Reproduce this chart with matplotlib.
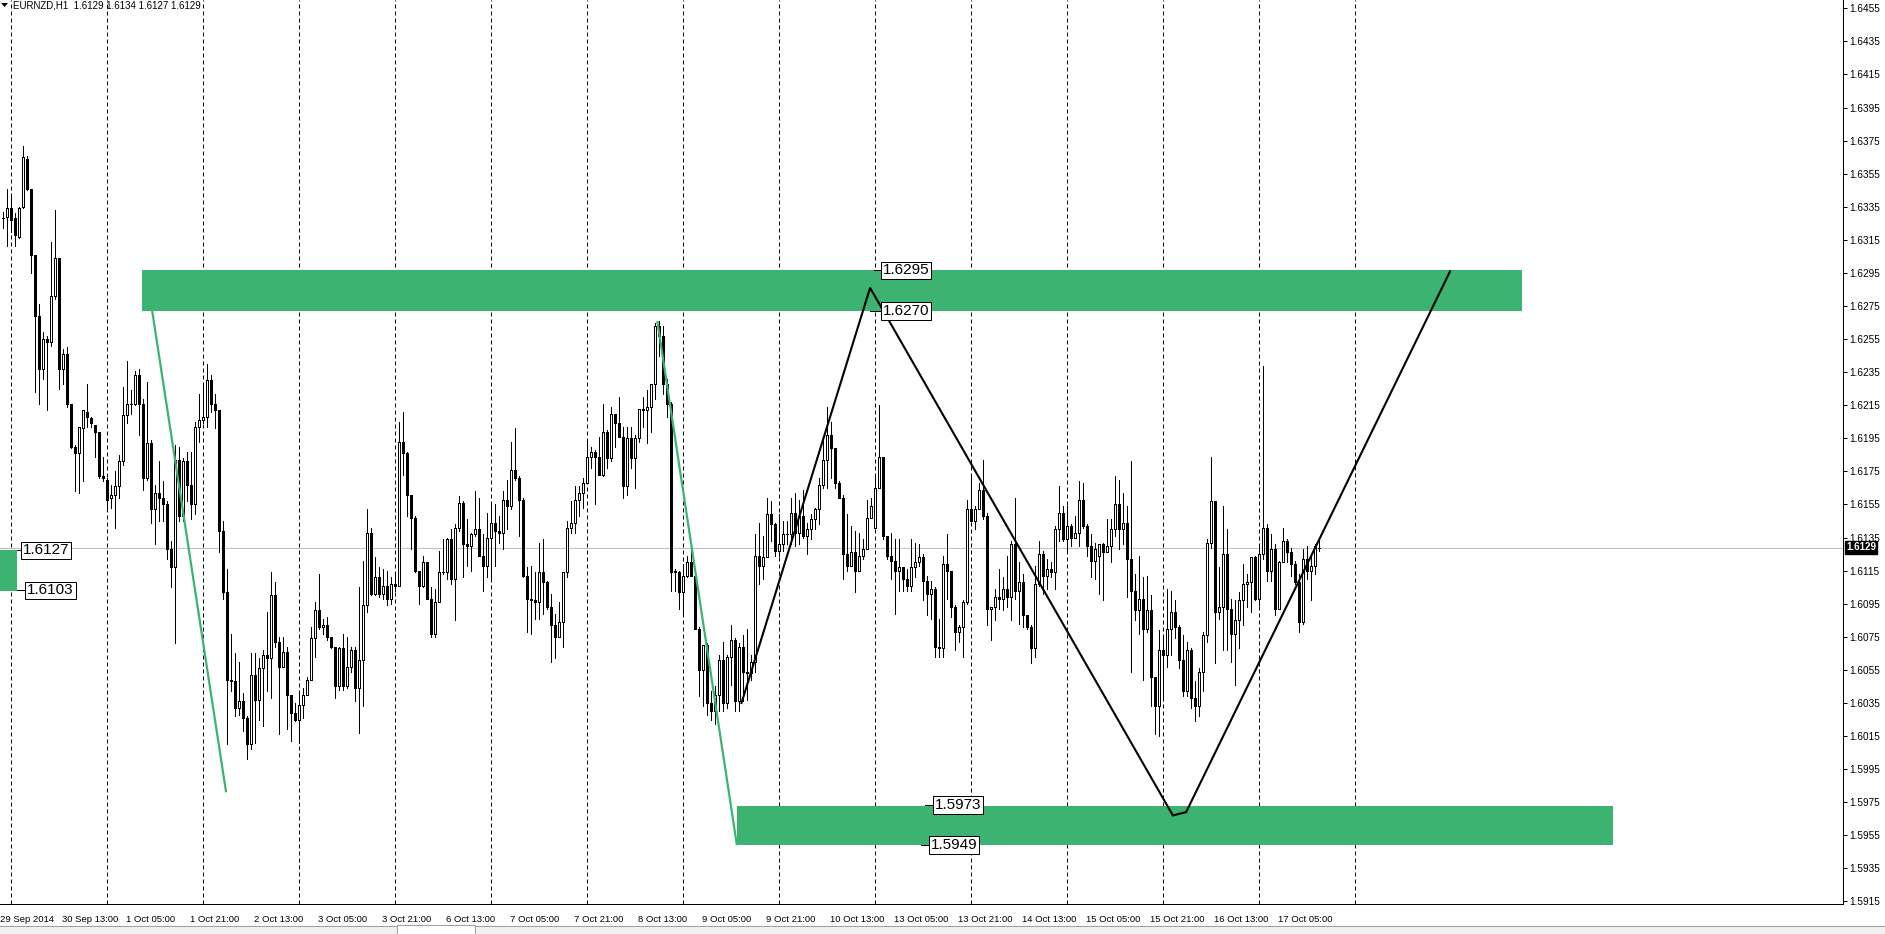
import matplotlib
matplotlib.use('Agg')
import matplotlib.pyplot as plt
from matplotlib.patches import Rectangle, Polygon
from matplotlib.lines import Line2D
import numpy as np
import pandas as pd

plt.rcParams['font.family'] = ['Liberation Sans', 'DejaVu Sans']

# ---------------- data ----------------
symbol = 'EURNZD,H1'
first_bar_time = '2014-09-29 22:00'
header_ohlc = [1.6129, 1.6134, 1.6127, 1.6129]
last_price = 1.6129

open_ = [
    1.6328, 1.6329,
    # 30 Sep
    1.6334, 1.6328, 1.6317, 1.6335, 1.6364, 1.6346, 1.6306, 1.6269, 1.6237, 1.6255, 1.6253, 1.6281, 1.6304, 1.6237, 1.6246, 1.6216, 1.6190, 1.6186, 1.6201, 1.6211, 1.6207, 1.6203, 1.6199, 1.6172,
    # 1 Oct
    1.6170, 1.6159, 1.6161, 1.6166, 1.6181, 1.6209, 1.6216, 1.6216, 1.6233, 1.6216, 1.6171, 1.6192, 1.6152, 1.6162, 1.6159, 1.6155, 1.6128, 1.6117, 1.6182, 1.6148, 1.6181, 1.6167, 1.6155, 1.6202,
    # 2 Oct
    1.6206, 1.6208, 1.6230, 1.6216, 1.6212, 1.6139, 1.6102, 1.6049, 1.6048, 1.6032, 1.6036, 1.6026, 1.6010, 1.6052, 1.6037, 1.6056, 1.6064, 1.6062, 1.6100, 1.6072, 1.6057, 1.6066, 1.6040, 1.6029,
    # 3 Oct
    1.6025, 1.6034, 1.6040, 1.6049, 1.6074, 1.6091, 1.6081, 1.6082, 1.6075, 1.6069, 1.6045, 1.6068, 1.6045, 1.6057, 1.6067, 1.6044, 1.6061, 1.6094, 1.6138, 1.6101, 1.6111, 1.6101, 1.6106, 1.6098,
    # 6 Oct
    1.6107, 1.6106, 1.6193, 1.6186, 1.6161, 1.6147, 1.6115, 1.6106, 1.6120, 1.6098, 1.6077, 1.6096, 1.6114, 1.6114, 1.6134, 1.6110, 1.6141, 1.6156, 1.6131, 1.6130, 1.6137, 1.6140, 1.6124, 1.6118,
    # 7 Oct
    1.6135, 1.6144, 1.6139, 1.6138, 1.6158, 1.6154, 1.6176, 1.6171, 1.6158, 1.6112, 1.6098, 1.6097, 1.6096, 1.6114, 1.6108, 1.6093, 1.6082, 1.6075, 1.6084, 1.6114, 1.6141, 1.6144, 1.6158, 1.6162,
    # 8 Oct
    1.6168, 1.6184, 1.6187, 1.6184, 1.6173, 1.6199, 1.6183, 1.6210, 1.6204, 1.6196, 1.6166, 1.6195, 1.6183, 1.6195, 1.6213, 1.6212, 1.6214, 1.6228, 1.6263, 1.6257, 1.6228, 1.6216, 1.6115, 1.6114,
    # 9 Oct
    1.6102, 1.6112, 1.6120, 1.6112, 1.6080, 1.6055, 1.6070, 1.6035, 1.6030, 1.6040, 1.6061, 1.6035, 1.6063, 1.6073, 1.6036, 1.6069, 1.6054, 1.6053, 1.6060, 1.6124, 1.6118, 1.6123, 1.6149, 1.6143,
    # 10 Oct
    1.6127, 1.6131, 1.6137, 1.6137, 1.6150, 1.6138, 1.6148, 1.6136, 1.6140, 1.6146, 1.6152, 1.6167, 1.6182, 1.6197, 1.6189, 1.6168, 1.6159, 1.6125, 1.6118, 1.6126, 1.6115, 1.6124, 1.6128, 1.6147,
    # 13 Oct
    1.6141, 1.6165, 1.6184, 1.6136, 1.6124, 1.6121, 1.6115, 1.6117, 1.6110, 1.6106, 1.6117, 1.6120, 1.6123, 1.6109, 1.6101, 1.6104, 1.6069, 1.6068, 1.6119, 1.6115, 1.6093, 1.6078, 1.6081, 1.6096,
    # 14 Oct
    1.6152, 1.6145, 1.6152, 1.6164, 1.6148, 1.6092, 1.6093, 1.6099, 1.6098, 1.6104, 1.6099, 1.6131, 1.6103, 1.6108, 1.6088, 1.6081, 1.6068, 1.6107, 1.6125, 1.6112, 1.6116, 1.6114, 1.6140, 1.6150,
    # 15 Oct
    1.6134, 1.6142, 1.6135, 1.6138, 1.6158, 1.6142, 1.6130, 1.6121, 1.6124, 1.6131, 1.6126, 1.6130, 1.6140, 1.6155, 1.6140, 1.6144, 1.6122, 1.6103, 1.6091, 1.6098, 1.6080, 1.6091, 1.6051, 1.6033,
    # 16 Oct
    1.6067, 1.6064, 1.6080, 1.6090, 1.6081, 1.6061, 1.6042, 1.6067, 1.6038, 1.6033, 1.6054, 1.6076, 1.6132, 1.6157, 1.6090, 1.6093, 1.6125, 1.6092, 1.6077, 1.6085, 1.6097, 1.6107, 1.6108, 1.6123,
    # 17 Oct
    1.6098, 1.6125, 1.6141, 1.6115, 1.6128, 1.6092, 1.6120, 1.6133, 1.6126, 1.6119, 1.6108, 1.6084, 1.6122, 1.6115, 1.6118, 1.6129,
]

high = [
    1.6332, 1.6346,
    1.6342, 1.6331, 1.6335, 1.6372, 1.6366, 1.6346, 1.6306, 1.6276, 1.6259, 1.6257, 1.6314, 1.6333, 1.6304, 1.6249, 1.6250, 1.6216, 1.6191, 1.6202, 1.6212, 1.6228, 1.6208, 1.6203, 1.6199, 1.6184,
    1.6171, 1.6167, 1.6175, 1.6185, 1.6226, 1.6242, 1.6224, 1.6236, 1.6237, 1.6219, 1.6229, 1.6194, 1.6167, 1.6181, 1.6169, 1.6157, 1.6133, 1.6191, 1.6190, 1.6183, 1.6187, 1.6187, 1.6205, 1.6222,
    1.6228, 1.6240, 1.6233, 1.6222, 1.6212, 1.6145, 1.6116, 1.6077, 1.6065, 1.6060, 1.6041, 1.6027, 1.6065, 1.6065, 1.6062, 1.6067, 1.6090, 1.6114, 1.6108, 1.6075, 1.6075, 1.6069, 1.6040, 1.6035,
    1.6042, 1.6044, 1.6051, 1.6081, 1.6096, 1.6113, 1.6086, 1.6087, 1.6075, 1.6069, 1.6069, 1.6077, 1.6075, 1.6069, 1.6069, 1.6105, 1.6121, 1.6152, 1.6141, 1.6123, 1.6117, 1.6116, 1.6115, 1.6111,
    1.6114, 1.6205, 1.6211, 1.6187, 1.6161, 1.6148, 1.6115, 1.6124, 1.6120, 1.6105, 1.6104, 1.6127, 1.6134, 1.6135, 1.6140, 1.6143, 1.6160, 1.6157, 1.6146, 1.6138, 1.6163, 1.6159, 1.6137, 1.6150,
    1.6155, 1.6155, 1.6148, 1.6163, 1.6170, 1.6193, 1.6201, 1.6172, 1.6159, 1.6117, 1.6118, 1.6114, 1.6132, 1.6134, 1.6109, 1.6101, 1.6089, 1.6096, 1.6114, 1.6145, 1.6157, 1.6166, 1.6166, 1.6171,
    1.6194, 1.6190, 1.6188, 1.6196, 1.6216, 1.6200, 1.6214, 1.6210, 1.6220, 1.6202, 1.6202, 1.6202, 1.6197, 1.6213, 1.6220, 1.6224, 1.6228, 1.6265, 1.6266, 1.6263, 1.6231, 1.6217, 1.6116, 1.6115,
    1.6119, 1.6124, 1.6127, 1.6115, 1.6081, 1.6070, 1.6071, 1.6042, 1.6045, 1.6064, 1.6072, 1.6064, 1.6082, 1.6074, 1.6071, 1.6076, 1.6080, 1.6064, 1.6137, 1.6144, 1.6136, 1.6159, 1.6157, 1.6144,
    1.6149, 1.6145, 1.6145, 1.6159, 1.6162, 1.6158, 1.6164, 1.6144, 1.6149, 1.6153, 1.6171, 1.6194, 1.6214, 1.6205, 1.6189, 1.6169, 1.6161, 1.6149, 1.6142, 1.6139, 1.6138, 1.6134, 1.6158, 1.6159,
    1.6172, 1.6215, 1.6184, 1.6136, 1.6138, 1.6134, 1.6134, 1.6117, 1.6116, 1.6134, 1.6132, 1.6131, 1.6125, 1.6112, 1.6109, 1.6105, 1.6086, 1.6124, 1.6137, 1.6115, 1.6094, 1.6082, 1.6097, 1.6158,
    1.6172, 1.6154, 1.6168, 1.6182, 1.6150, 1.6093, 1.6104, 1.6116, 1.6111, 1.6124, 1.6133, 1.6159, 1.6120, 1.6113, 1.6088, 1.6082, 1.6118, 1.6133, 1.6127, 1.6122, 1.6120, 1.6142, 1.6166, 1.6154,
    1.6154, 1.6143, 1.6148, 1.6169, 1.6168, 1.6143, 1.6137, 1.6132, 1.6131, 1.6132, 1.6146, 1.6146, 1.6172, 1.6170, 1.6162, 1.6154, 1.6181, 1.6113, 1.6124, 1.6111, 1.6112, 1.6100, 1.6051, 1.6079,
    1.6074, 1.6104, 1.6103, 1.6097, 1.6082, 1.6076, 1.6072, 1.6068, 1.6048, 1.6056, 1.6078, 1.6134, 1.6184, 1.6157, 1.6117, 1.6154, 1.6140, 1.6098, 1.6097, 1.6102, 1.6119, 1.6113, 1.6123, 1.6124,
    1.6130, 1.6239, 1.6143, 1.6137, 1.6131, 1.6121, 1.6141, 1.6134, 1.6129, 1.6121, 1.6113, 1.6128, 1.6130, 1.6125, 1.6131, 1.6134,
]

low = [
    1.6322, 1.6311,
    1.6320, 1.6311, 1.6316, 1.6334, 1.6345, 1.6295, 1.6223, 1.6216, 1.6231, 1.6212, 1.6251, 1.6279, 1.6225, 1.6228, 1.6214, 1.6189, 1.6163, 1.6162, 1.6169, 1.6202, 1.6202, 1.6184, 1.6171, 1.6169,
    1.6153, 1.6153, 1.6141, 1.6159, 1.6179, 1.6204, 1.6210, 1.6215, 1.6197, 1.6164, 1.6170, 1.6144, 1.6131, 1.6145, 1.6145, 1.6122, 1.6105, 1.6071, 1.6145, 1.6145, 1.6157, 1.6146, 1.6149, 1.6193,
    1.6204, 1.6202, 1.6211, 1.6201, 1.6126, 1.6098, 1.6010, 1.6042, 1.6027, 1.6028, 1.6018, 1.6001, 1.6007, 1.6011, 1.6025, 1.6021, 1.6042, 1.6038, 1.6069, 1.6016, 1.6057, 1.6019, 1.6012, 1.6024,
    1.6011, 1.6026, 1.6040, 1.6049, 1.6063, 1.6080, 1.6077, 1.6073, 1.6068, 1.6038, 1.6043, 1.6043, 1.6044, 1.6054, 1.6036, 1.6017, 1.6033, 1.6090, 1.6100, 1.6100, 1.6099, 1.6098, 1.6094, 1.6095,
    1.6103, 1.6106, 1.6173, 1.6148, 1.6128, 1.6114, 1.6095, 1.6105, 1.6098, 1.6075, 1.6075, 1.6096, 1.6113, 1.6110, 1.6107, 1.6085, 1.6139, 1.6111, 1.6118, 1.6115, 1.6136, 1.6124, 1.6103, 1.6111,
    1.6109, 1.6118, 1.6132, 1.6128, 1.6140, 1.6152, 1.6170, 1.6136, 1.6111, 1.6078, 1.6077, 1.6086, 1.6086, 1.6089, 1.6092, 1.6060, 1.6062, 1.6075, 1.6069, 1.6111, 1.6138, 1.6138, 1.6148, 1.6153,
    1.6168, 1.6177, 1.6155, 1.6173, 1.6172, 1.6177, 1.6181, 1.6190, 1.6196, 1.6159, 1.6161, 1.6177, 1.6165, 1.6193, 1.6202, 1.6192, 1.6199, 1.6219, 1.6245, 1.6222, 1.6208, 1.6103, 1.6103, 1.6092,
    1.6088, 1.6111, 1.6112, 1.6080, 1.6039, 1.6033, 1.6028, 1.6025, 1.6022, 1.6030, 1.6030, 1.6032, 1.6046, 1.6030, 1.6030, 1.6036, 1.6037, 1.6049, 1.6054, 1.6107, 1.6110, 1.6123, 1.6133, 1.6124,
    1.6124, 1.6127, 1.6131, 1.6131, 1.6130, 1.6131, 1.6135, 1.6125, 1.6134, 1.6140, 1.6143, 1.6165, 1.6165, 1.6171, 1.6165, 1.6159, 1.6110, 1.6115, 1.6118, 1.6102, 1.6115, 1.6122, 1.6128, 1.6147,
    1.6141, 1.6165, 1.6134, 1.6122, 1.6110, 1.6089, 1.6103, 1.6103, 1.6103, 1.6103, 1.6111, 1.6118, 1.6097, 1.6088, 1.6086, 1.6063, 1.6063, 1.6063, 1.6098, 1.6087, 1.6067, 1.6072, 1.6063, 1.6095,
    1.6145, 1.6140, 1.6152, 1.6146, 1.6082, 1.6073, 1.6085, 1.6092, 1.6091, 1.6093, 1.6085, 1.6098, 1.6083, 1.6081, 1.6080, 1.6059, 1.6063, 1.6106, 1.6101, 1.6104, 1.6111, 1.6104, 1.6133, 1.6133,
    1.6126, 1.6130, 1.6135, 1.6130, 1.6141, 1.6124, 1.6111, 1.6110, 1.6101, 1.6097, 1.6126, 1.6120, 1.6136, 1.6128, 1.6131, 1.6099, 1.6054, 1.6085, 1.6077, 1.6049, 1.6078, 1.6033, 1.6016, 1.6015,
    1.6037, 1.6057, 1.6064, 1.6074, 1.6056, 1.6039, 1.6039, 1.6032, 1.6024, 1.6027, 1.6042, 1.6072, 1.6129, 1.6059, 1.6086, 1.6067, 1.6067, 1.6060, 1.6046, 1.6068, 1.6082, 1.6093, 1.6090, 1.6097,
    1.6094, 1.6122, 1.6109, 1.6109, 1.6088, 1.6092, 1.6120, 1.6120, 1.6112, 1.6107, 1.6078, 1.6083, 1.6110, 1.6097, 1.6113, 1.6127,
]

close = [
    1.6328, 1.6334,
    1.6327, 1.6318, 1.6334, 1.6365, 1.6346, 1.6306, 1.6269, 1.6237, 1.6255, 1.6253, 1.6281, 1.6304, 1.6237, 1.6246, 1.6216, 1.6190, 1.6186, 1.6202, 1.6212, 1.6208, 1.6204, 1.6199, 1.6172, 1.6171,
    1.6158, 1.6161, 1.6166, 1.6181, 1.6209, 1.6216, 1.6216, 1.6233, 1.6216, 1.6171, 1.6192, 1.6152, 1.6162, 1.6159, 1.6155, 1.6128, 1.6117, 1.6182, 1.6148, 1.6181, 1.6167, 1.6155, 1.6202, 1.6206,
    1.6208, 1.6230, 1.6216, 1.6212, 1.6139, 1.6102, 1.6049, 1.6048, 1.6032, 1.6036, 1.6026, 1.6010, 1.6052, 1.6037, 1.6056, 1.6064, 1.6062, 1.6100, 1.6072, 1.6057, 1.6066, 1.6040, 1.6029, 1.6025,
    1.6034, 1.6040, 1.6049, 1.6074, 1.6091, 1.6081, 1.6082, 1.6075, 1.6069, 1.6045, 1.6068, 1.6045, 1.6057, 1.6067, 1.6044, 1.6061, 1.6094, 1.6138, 1.6101, 1.6111, 1.6101, 1.6106, 1.6098, 1.6107,
    1.6106, 1.6193, 1.6186, 1.6161, 1.6147, 1.6115, 1.6106, 1.6120, 1.6098, 1.6077, 1.6096, 1.6114, 1.6114, 1.6134, 1.6110, 1.6141, 1.6156, 1.6131, 1.6130, 1.6137, 1.6140, 1.6124, 1.6118, 1.6135,
    1.6144, 1.6139, 1.6138, 1.6158, 1.6154, 1.6176, 1.6171, 1.6158, 1.6112, 1.6098, 1.6097, 1.6096, 1.6114, 1.6108, 1.6093, 1.6082, 1.6075, 1.6084, 1.6114, 1.6141, 1.6144, 1.6158, 1.6162, 1.6168,
    1.6184, 1.6187, 1.6184, 1.6173, 1.6199, 1.6183, 1.6210, 1.6204, 1.6196, 1.6166, 1.6195, 1.6183, 1.6195, 1.6213, 1.6212, 1.6214, 1.6228, 1.6263, 1.6257, 1.6228, 1.6216, 1.6114, 1.6114, 1.6102,
    1.6112, 1.6120, 1.6112, 1.6080, 1.6055, 1.6070, 1.6035, 1.6030, 1.6040, 1.6061, 1.6035, 1.6063, 1.6073, 1.6036, 1.6069, 1.6054, 1.6053, 1.6060, 1.6124, 1.6118, 1.6123, 1.6149, 1.6143, 1.6127,
    1.6131, 1.6137, 1.6137, 1.6150, 1.6138, 1.6148, 1.6136, 1.6140, 1.6146, 1.6152, 1.6167, 1.6182, 1.6197, 1.6189, 1.6168, 1.6159, 1.6125, 1.6118, 1.6126, 1.6115, 1.6124, 1.6128, 1.6147, 1.6154,
    1.6165, 1.6184, 1.6136, 1.6124, 1.6121, 1.6115, 1.6117, 1.6110, 1.6106, 1.6117, 1.6120, 1.6123, 1.6109, 1.6101, 1.6104, 1.6069, 1.6068, 1.6119, 1.6115, 1.6093, 1.6078, 1.6081, 1.6096, 1.6152,
    1.6145, 1.6152, 1.6164, 1.6148, 1.6092, 1.6093, 1.6099, 1.6098, 1.6104, 1.6099, 1.6131, 1.6103, 1.6108, 1.6088, 1.6081, 1.6068, 1.6107, 1.6125, 1.6112, 1.6116, 1.6114, 1.6140, 1.6150, 1.6134,
    1.6142, 1.6135, 1.6138, 1.6158, 1.6142, 1.6130, 1.6121, 1.6128, 1.6131, 1.6126, 1.6130, 1.6140, 1.6155, 1.6140, 1.6144, 1.6122, 1.6103, 1.6091, 1.6098, 1.6080, 1.6091, 1.6051, 1.6033, 1.6067,
    1.6064, 1.6080, 1.6090, 1.6081, 1.6061, 1.6042, 1.6067, 1.6038, 1.6033, 1.6054, 1.6076, 1.6132, 1.6157, 1.6090, 1.6093, 1.6125, 1.6092, 1.6077, 1.6085, 1.6097, 1.6107, 1.6108, 1.6123, 1.6098,
    1.6125, 1.6141, 1.6115, 1.6128, 1.6092, 1.6120, 1.6133, 1.6126, 1.6119, 1.6108, 1.6084, 1.6122, 1.6115, 1.6118, 1.6130, 1.6129,
]

# support / resistance zones: (first bar, last bar, upper price, lower price)
zone_upper = (34.9, 379.9, 1.62965, 1.6272)
zone_lower = (183.6, 402.6, 1.5973, 1.5949)
zone_left = (-3.0, 3.7, 1.61275, 1.6103)
zone_labels = [  # text, box-left bar, price, leader-start bar, leader price
    ('1.6127', 4.7, 1.61272, 3.7, 1.61275),
    ('1.6103', 5.7, 1.61031, 3.7, 1.61031),
    ('1.6295', 219.6, 1.62965, 217.9, 1.62965),
    ('1.6270', 219.6, 1.62718, 216.9, 1.62718),
    ('1.5973', 232.6, 1.59735, 230.6, 1.59735),
    ('1.5949', 231.6, 1.59490, 229.6, 1.59490),
]
green_lines = [((35.9, 1.6296), (55.9, 1.5981)),
               ((163.7, 1.6266), (183.6, 1.5949))]
zigzag_bar = [184.75, 216.9, 292.6, 295.9, 361.9]
zigzag_price = [1.6035, 1.6286, 1.5967, 1.5969, 1.6296]

price_ticks = np.round(np.arange(1.5915, 1.64551, 0.0020), 4)

# ---------------- layout ----------------
W, H = 1885, 934
CHART_R, CHART_B = 1843, 904
PX_PER_PRICE = 16540.0
Y_LAST = 547.5
FIRST_BAR_PX = 2.5
PX_PER_BAR = 4.0
GREEN = '#3CB371'
LW1 = 0.72  # 1 px

fig = plt.figure(figsize=(W / 100, H / 100), dpi=100)
fig.patch.set_facecolor('white')
ax = fig.add_axes([0, (H - CHART_B) / H, CHART_R / W, CHART_B / H])
ax.set_facecolor('white')

x_left = -FIRST_BAR_PX / PX_PER_BAR
x_right = (CHART_R - FIRST_BAR_PX) / PX_PER_BAR
ax.set_xlim(x_left, x_right)
y_top = last_price + Y_LAST / PX_PER_PRICE
y_bot = last_price - (CHART_B - Y_LAST) / PX_PER_PRICE
ax.set_ylim(y_bot, y_top)

o = np.array(open_); h = np.array(high); l = np.array(low); c = np.array(close)
n = len(c)
assert len(o) == n and len(h) == n and len(l) == n, (len(o), len(h), len(l), n)
x = np.arange(n)

# bar times (no weekend bars)
rng = pd.date_range(first_bar_time, periods=n * 2, freq='h')
times = [t for t in rng if t.weekday() < 5][:n]

# day separators
sep = [j for j, t in enumerate(times) if t.hour == 0]
sep.append(sep[-1] + 24)
for j in sep:
    ax.axvline(j, color='black', lw=LW1, ls=(0, (4, 3)), zorder=1)

# last price line
ax.axhline(last_price, color='#C0C0C0', lw=LW1, zorder=1.5)

# zones
for (x0, x1, ptop, pbot) in (zone_upper, zone_lower, zone_left):
    ax.add_patch(Rectangle((x0, pbot), x1 - x0, ptop - pbot, facecolor=GREEN,
                           edgecolor='none', zorder=2))

# candles
ax.vlines(x, l, h, color='black', lw=LW1, zorder=3, antialiased=False)
up = c >= o
body_b = np.minimum(o, c)
body_h = np.abs(c - o)
ax.bar(x[up], body_h[up], bottom=body_b[up], width=0.5, facecolor='white',
       edgecolor='black', linewidth=LW1, zorder=4, antialiased=False)
ax.bar(x[~up], body_h[~up], bottom=body_b[~up], width=0.5, facecolor='black',
       edgecolor='black', linewidth=LW1, zorder=4, antialiased=False)

# trend lines
for (p0, p1) in green_lines:
    ax.plot([p0[0], p1[0]], [p0[1], p1[1]], color=GREEN, lw=1.6, zorder=5,
            solid_capstyle='butt')
ax.plot(zigzag_bar, zigzag_price, color='black', lw=1.5, zorder=5,
        solid_joinstyle='miter')

# zone labels
for (txt, xb, pb, xl, pl) in zone_labels:
    ax.plot([xl, xb], [pl, pl], color='black', lw=LW1, zorder=6)
    ax.text(xb + 0.45, pb, txt, fontsize=11, ha='left', va='center', zorder=7,
            bbox=dict(boxstyle='square,pad=0.12', facecolor='white',
                      edgecolor='black', linewidth=LW1))

# axes frame
for s in ('top', 'left'):
    ax.spines[s].set_visible(False)
for s in ('right', 'bottom'):
    ax.spines[s].set_linewidth(LW1)
    ax.spines[s].set_color('black')

ax.set_xticks([])
ax.yaxis.tick_right()
ax.set_yticks(price_ticks)
ax.set_yticklabels([f'{v:.4f}' for v in price_ticks])
ax.tick_params(axis='y', length=2.9, width=LW1, pad=1.5, labelsize=7.2,
               colors='black')

# time labels
xt = ax.get_xaxis_transform()
ylab = -(919 - CHART_B) / CHART_B
ax.text(x_left, ylab, f'{times[0].day} {times[0]:%b %Y}', transform=xt,
        fontsize=6.8, ha='left', va='center', clip_on=False)
for j, t in enumerate(times):
    if j >= 15 and (j - 15) % 16 == 0:
        ax.text(j - 0.25, ylab, f'{t.day} {t:%b %H:%M}', transform=xt,
                fontsize=6.8, ha='left', va='center', clip_on=False)

# last price marker on the axis
fig.text(1846 / W, 1 - Y_LAST / H, f'{last_price:.4f}', color='white',
         fontsize=7, ha='left', va='center', fontweight='bold',
         bbox=dict(boxstyle='square,pad=0.15', facecolor='black',
                   edgecolor='black'))

# header
fig.text(13 / W, 1 - 5.5 / H,
         f'{symbol}  ' + ' '.join(f'{v:.4f}' for v in header_ohlc),
         fontsize=7, ha='left', va='center')
fig.patches.append(Polygon([(1 / W, 1 - 3 / H), (8 / W, 1 - 3 / H),
                            (4.5 / W, 1 - 7 / H)], closed=True,
                           transform=fig.transFigure, facecolor='black',
                           edgecolor='none'))

# bottom tab strip (terminal window tabs)
fig.patches.append(Rectangle((0, 0), 1, 8 / H, transform=fig.transFigure,
                             facecolor='#F0F0F0', edgecolor='none'))
fig.patches.append(Rectangle((397 / W, 0), 78 / W, 9 / H,
                             transform=fig.transFigure, facecolor='white',
                             edgecolor='none'))
for seg in ([(0, 397), (8, 8)], [(475, W), (8, 8)],
            [(397, 397), (0, 9)], [(475, 475), (0, 9)], [(397, 475), (9, 9)]):
    fig.lines.append(Line2D([v / W for v in seg[0]], [v / H for v in seg[1]],
                            transform=fig.transFigure, color='#A0A0A0',
                            lw=LW1))

fig.savefig('out.png', dpi=100, facecolor='white')
